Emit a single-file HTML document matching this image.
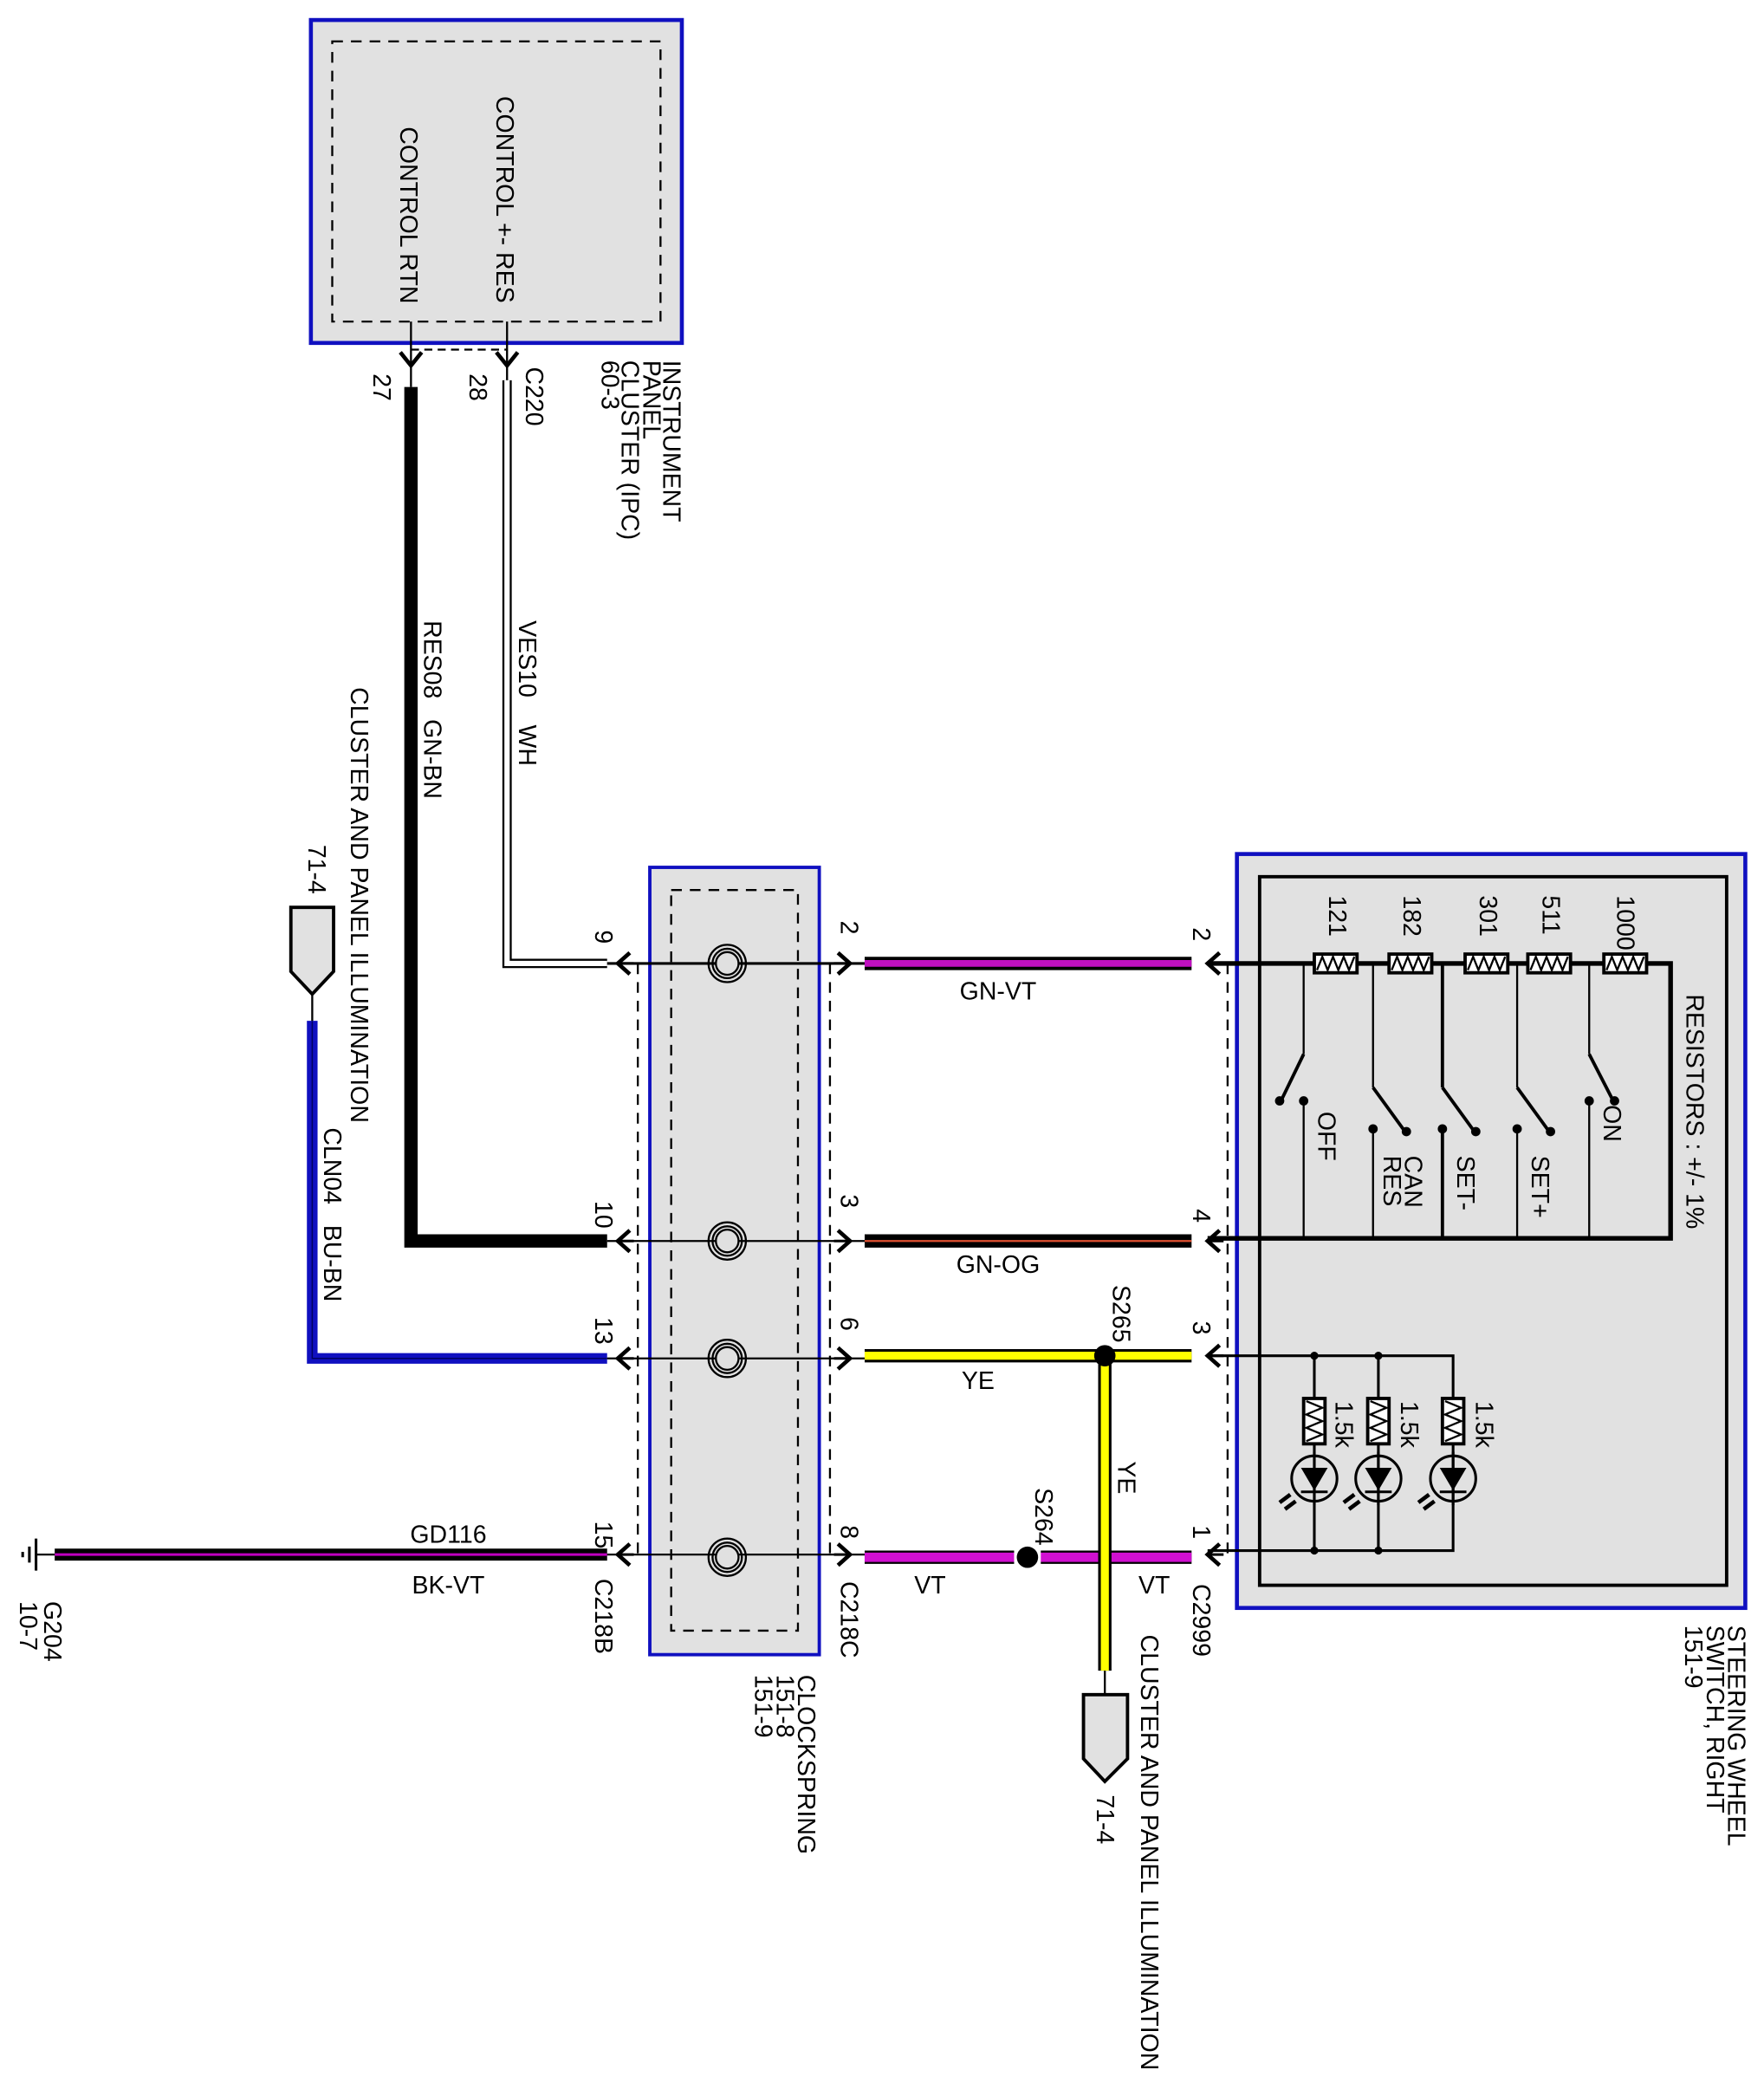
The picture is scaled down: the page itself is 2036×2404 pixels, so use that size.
<!DOCTYPE html>
<html><head><meta charset="utf-8"><style>
html,body{margin:0;padding:0;background:#fff;}
svg{display:block;}
text{font-family:"Liberation Sans",sans-serif;font-size:18.5px;fill:#000;white-space:pre;}
</style></head><body>
<svg width="2036" height="2404" viewBox="0 0 1322 1561" preserveAspectRatio="none" xmlns="http://www.w3.org/2000/svg" xml:space="preserve">
<defs>
<g id="arL"><path d="M9,-8 L0,0 L9,8" fill="none" stroke="#000" stroke-width="3"/><line x1="0" y1="0" x2="12" y2="0" stroke="#000" stroke-width="2"/></g>
<g id="arR"><path d="M-9,-8 L0,0 L-9,8" fill="none" stroke="#000" stroke-width="3"/><line x1="0" y1="0" x2="-12" y2="0" stroke="#000" stroke-width="2"/></g>
<g id="resH"><rect x="-16" y="-7" width="32" height="14" fill="#fff" stroke="#000" stroke-width="2.5"/><path d="M-14,5 L-10,-5 L-6,5 L-2,-5 L2,5 L6,-5 L10,5 L14,-5" fill="none" stroke="#000" stroke-width="1.5"/></g>
<g id="resV"><rect x="-8" y="-17" width="16" height="34" fill="#fff" stroke="#000" stroke-width="2.5"/><path d="M-6,-15 L6,-10 L-6,-5 L6,0 L-6,5 L6,10 L-6,15" fill="none" stroke="#000" stroke-width="1.5"/></g>
<g id="coil"><circle r="14" fill="none" stroke="#000" stroke-width="1.5"/><circle r="11" fill="none" stroke="#000" stroke-width="1.5"/><circle r="8.5" fill="#e0e0e0" stroke="#000" stroke-width="1.5"/></g>
<g id="led"><circle r="17" fill="none" stroke="#000" stroke-width="2"/><path d="M-10,-8 L10,-8 L0,9 Z" fill="#000"/><line x1="-10" y1="10" x2="10" y2="10" stroke="#000" stroke-width="2"/><line x1="0" y1="-20" x2="0" y2="20" stroke="#000" stroke-width="2"/><path d="M-18,12 L-26,18 M-14,17 L-22,23" stroke="#000" stroke-width="3"/></g>
</defs>

<rect x="233" y="15" width="278" height="242" fill="#e1e1e1" stroke="#1010c0" stroke-width="3"/>
<rect x="249" y="31" width="246" height="210" fill="none" stroke="#000" stroke-width="1.5" stroke-dasharray="8,6"/>
<text transform="translate(372,72) rotate(90)">CONTROL +- RES</text>
<text transform="translate(300,95) rotate(90)">CONTROL RTN</text>
<line x1="308" y1="241" x2="308" y2="290" stroke="#000" stroke-width="1.5"/>
<line x1="380" y1="241" x2="380" y2="285" stroke="#000" stroke-width="1.5"/>
<line x1="308" y1="262" x2="380" y2="262" stroke="#000" stroke-width="1.5" stroke-dasharray="6,4"/>
<path d="M300,264 L308,274 L316,264" fill="none" stroke="#000" stroke-width="3"/>
<path d="M372,264 L380,274 L388,264" fill="none" stroke="#000" stroke-width="3"/>
<text transform="translate(280,280) rotate(90)">27</text>
<text transform="translate(352,280) rotate(90)">28</text>
<text transform="translate(394,275) rotate(90)">C220</text>
<text transform="translate(497,270) rotate(90)">INSTRUMENT</text>
<text transform="translate(482,270) rotate(90)">PANEL</text>
<text transform="translate(466,270) rotate(90)">CLUSTER (IPC)</text>
<text transform="translate(451,270) rotate(90)">60-3</text>

<path d="M308,290 L308,930 L455,930" fill="none" stroke="#000" stroke-width="10"/>
<text transform="translate(318,465) rotate(90)">RES08   GN-BN</text>
<path d="M380,285 L380,722 L455,722" fill="none" stroke="#000" stroke-width="7"/>
<path d="M380,285 L380,722 L455,722" fill="none" stroke="#fff" stroke-width="4"/>
<text transform="translate(389,465) rotate(90)">VES10    WH</text>

<text transform="translate(263,515) rotate(90)">CLUSTER AND PANEL ILLUMINATION</text>
<text transform="translate(231,633) rotate(90)">71-4</text>
<path d="M218,680 L250,680 L250,728 L234,745 L218,728 Z" fill="#e1e1e1" stroke="#000" stroke-width="2.5"/>
<line x1="234" y1="745" x2="234" y2="765" stroke="#000" stroke-width="1.5"/>
<path d="M234,765 L234,1018 L455,1018" fill="none" stroke="#1010c0" stroke-width="8"/>
<path d="M234,765 L234,1018 L455,1018" fill="none" stroke="#000060" stroke-width="1"/>
<text transform="translate(243,845) rotate(90)">CLN04   BU-BN</text>

<line x1="41" y1="1165" x2="455" y2="1165" stroke="#000" stroke-width="9"/>
<line x1="41" y1="1165" x2="455" y2="1165" stroke="#c000c0" stroke-width="2"/>
<line x1="27" y1="1165" x2="41" y2="1165" stroke="#000" stroke-width="1.5"/>
<line x1="27" y1="1153" x2="27" y2="1177" stroke="#000" stroke-width="2"/>
<line x1="22" y1="1159" x2="22" y2="1171" stroke="#000" stroke-width="2"/>
<line x1="17" y1="1163" x2="17" y2="1167" stroke="#000" stroke-width="2"/>
<text x="336" y="1156" text-anchor="middle">GD116</text>
<text x="336" y="1194" text-anchor="middle">BK-VT</text>
<text transform="translate(33,1200) rotate(90)">G204</text>
<text transform="translate(15,1200) rotate(90)">10-7</text>

<rect x="487" y="650" width="127" height="590" fill="#e1e1e1" stroke="#1010c0" stroke-width="2.5"/>
<rect x="503" y="667" width="95" height="555" fill="none" stroke="#000" stroke-width="1.5" stroke-dasharray="8,6"/>
<line x1="478" y1="722" x2="478" y2="1170" stroke="#000" stroke-width="1.5" stroke-dasharray="8,6"/>
<line x1="622" y1="722" x2="622" y2="1170" stroke="#000" stroke-width="1.5" stroke-dasharray="8,6"/>
<g stroke="#000" stroke-width="2">
<line x1="455" y1="722" x2="648" y2="722"/>
<line x1="455" y1="930" x2="648" y2="930" stroke-width="1.5"/>
<line x1="455" y1="1018" x2="648" y2="1018" stroke-width="1.5"/>
<line x1="455" y1="1165" x2="648" y2="1165" stroke-width="1.5"/>
</g>
<use href="#coil" x="545" y="722"/><use href="#coil" x="545" y="930"/><use href="#coil" x="545" y="1018"/><use href="#coil" x="545" y="1167"/>
<use href="#arL" x="463" y="722"/><use href="#arL" x="463" y="930"/><use href="#arL" x="463" y="1018"/><use href="#arL" x="463" y="1165"/>
<use href="#arR" x="637" y="722"/><use href="#arR" x="637" y="930"/><use href="#arR" x="637" y="1018"/><use href="#arR" x="637" y="1165"/>
<text transform="translate(446,697) rotate(90)">9</text>
<text transform="translate(446,900) rotate(90)">10</text>
<text transform="translate(446,987) rotate(90)">13</text>
<text transform="translate(446,1140) rotate(90)">15</text>
<text transform="translate(446,1183) rotate(90)">C218B</text>
<text transform="translate(630,690) rotate(90)">2</text>
<text transform="translate(630,895) rotate(90)">3</text>
<text transform="translate(630,987) rotate(90)">6</text>
<text transform="translate(630,1143) rotate(90)">8</text>
<text transform="translate(630,1185) rotate(90)">C218C</text>
<text transform="translate(598,1255) rotate(90)">CLOCKSPRING</text>
<text transform="translate(582,1255) rotate(90)">151-8</text>
<text transform="translate(566,1255) rotate(90)">151-9</text>

<line x1="648" y1="722" x2="893" y2="722" stroke="#000" stroke-width="10"/>
<line x1="648" y1="722" x2="893" y2="722" stroke="#c010c0" stroke-width="5"/>
<text x="748" y="749" text-anchor="middle">GN-VT</text>
<line x1="648" y1="930" x2="893" y2="930" stroke="#000" stroke-width="10"/>
<line x1="648" y1="930" x2="893" y2="930" stroke="#e05030" stroke-width="1.5"/>
<text x="748" y="954" text-anchor="middle">GN-OG</text>
<line x1="648" y1="1016" x2="893" y2="1016" stroke="#000" stroke-width="10"/>
<line x1="648" y1="1016" x2="893" y2="1016" stroke="#ffff00" stroke-width="6"/>
<text x="733" y="1041" text-anchor="middle">YE</text>
<line x1="648" y1="1167" x2="893" y2="1167" stroke="#000" stroke-width="10"/>
<line x1="648" y1="1167" x2="893" y2="1167" stroke="#d010d0" stroke-width="7"/>
<line x1="828" y1="1016" x2="828" y2="1252" stroke="#000" stroke-width="10"/>
<line x1="828" y1="1016" x2="828" y2="1252" stroke="#ffff00" stroke-width="6"/>
<line x1="760" y1="1167" x2="780" y2="1167" stroke="#fff" stroke-width="12"/>
<circle cx="770" cy="1167" r="8" fill="#000"/>
<circle cx="828" cy="1016" r="8" fill="#000"/>
<text transform="translate(834,963) rotate(90)">S265</text>
<text transform="translate(776,1115) rotate(90)">S264</text>
<text transform="translate(838,1095) rotate(90)">YE</text>
<text x="697" y="1194" text-anchor="middle">VT</text>
<text x="865" y="1194" text-anchor="middle">VT</text>
<line x1="828" y1="1252" x2="828" y2="1270" stroke="#000" stroke-width="1.5"/>
<path d="M812,1270 L845,1270 L845,1318 L828,1335 L812,1318 Z" fill="#e1e1e1" stroke="#000" stroke-width="2.5"/>
<text transform="translate(822,1345) rotate(90)">71-4</text>
<text transform="translate(855,1225) rotate(90)">CLUSTER AND PANEL ILLUMINATION</text>

<rect x="927" y="640" width="381" height="565" fill="#e1e1e1" stroke="#1010c0" stroke-width="3"/>
<rect x="944" y="657" width="350" height="531" fill="none" stroke="#000" stroke-width="2.5"/>
<line x1="920" y1="722" x2="920" y2="1170" stroke="#000" stroke-width="1.5" stroke-dasharray="8,6"/>
<use href="#arL" x="905" y="722"/><use href="#arL" x="905" y="930"/><use href="#arL" x="905" y="1016"/><use href="#arL" x="905" y="1165"/>
<text transform="translate(894,695) rotate(90)">2</text>
<text transform="translate(894,906) rotate(90)">4</text>
<text transform="translate(894,990) rotate(90)">3</text>
<text transform="translate(894,1143) rotate(90)">1</text>
<text transform="translate(894,1187) rotate(90)">C2999</text>

<g stroke="#000" fill="none">
<path d="M905,722 L1252,722 L1252,928 L905,928" stroke-width="3.5"/>
<line x1="977" y1="722" x2="977" y2="790" stroke-width="1.5"/>
<line x1="977" y1="790" x2="960" y2="825" stroke-width="2.5"/>
<line x1="977" y1="825" x2="977" y2="928" stroke-width="1.5"/>
<line x1="1029" y1="722" x2="1029" y2="815" stroke-width="1.5"/>
<line x1="1029" y1="815" x2="1053" y2="848" stroke-width="2.5"/>
<line x1="1029" y1="846" x2="1029" y2="928" stroke-width="1.5"/>
<line x1="1081" y1="722" x2="1081" y2="815" stroke-width="2.5"/>
<line x1="1081" y1="815" x2="1105" y2="848" stroke-width="2.5"/>
<line x1="1081" y1="846" x2="1081" y2="928" stroke-width="2.5"/>
<line x1="1137" y1="722" x2="1137" y2="815" stroke-width="1.5"/>
<line x1="1137" y1="815" x2="1161" y2="848" stroke-width="2.5"/>
<line x1="1137" y1="846" x2="1137" y2="928" stroke-width="1.5"/>
<line x1="1191" y1="722" x2="1191" y2="790" stroke-width="1.5"/>
<line x1="1191" y1="790" x2="1209" y2="825" stroke-width="2.5"/>
<line x1="1191" y1="825" x2="1191" y2="928" stroke-width="1.5"/>
</g>
<g fill="#000">
<circle cx="959" cy="825" r="3.5"/><circle cx="977" cy="825" r="3.5"/>
<circle cx="1029" cy="846" r="3.5"/><circle cx="1054" cy="848" r="3.5"/>
<circle cx="1081" cy="846" r="3.5"/><circle cx="1106" cy="848" r="3.5"/>
<circle cx="1137" cy="846" r="3.5"/><circle cx="1162" cy="848" r="3.5"/>
<circle cx="1191" cy="825" r="3.5"/><circle cx="1210" cy="825" r="3.5"/>
</g>
<use href="#resH" x="1001" y="722"/><use href="#resH" x="1057" y="722"/><use href="#resH" x="1114" y="722"/><use href="#resH" x="1161" y="722"/><use href="#resH" x="1218" y="722"/>
<text transform="translate(996,671) rotate(90)">121</text>
<text transform="translate(1052,671) rotate(90)">182</text>
<text transform="translate(1109,671) rotate(90)">301</text>
<text transform="translate(1156,671) rotate(90)">511</text>
<text transform="translate(1212,671) rotate(90)">1000</text>
<text transform="translate(988,833) rotate(90)">OFF</text>
<text transform="translate(1053,866) rotate(90)">CAN</text>
<text transform="translate(1037,866) rotate(90)">RES</text>
<text transform="translate(1092,866) rotate(90)">SET-</text>
<text transform="translate(1148,866) rotate(90)">SET+</text>
<text transform="translate(1202,828) rotate(90)">ON</text>
<text transform="translate(1264,745) rotate(90)">RESISTORS : +/- 1%</text>

<g stroke="#000" fill="none" stroke-width="2">
<path d="M905,1016 L1089,1016 L1089,1162 L905,1162"/>
<line x1="985" y1="1016" x2="985" y2="1162"/>
<line x1="1033" y1="1016" x2="1033" y2="1162"/>
</g>
<circle cx="985" cy="1016" r="3" fill="#000"/><circle cx="1033" cy="1016" r="3" fill="#000"/>
<circle cx="985" cy="1162" r="3" fill="#000"/><circle cx="1033" cy="1162" r="3" fill="#000"/>
<use href="#resV" x="985" y="1065"/><use href="#resV" x="1033" y="1065"/><use href="#resV" x="1089" y="1065"/>
<use href="#led" x="985" y="1108"/><use href="#led" x="1033" y="1108"/><use href="#led" x="1089" y="1108"/>
<text transform="translate(1001,1050) rotate(90)">1.5k</text>
<text transform="translate(1050,1050) rotate(90)">1.5k</text>
<text transform="translate(1106,1050) rotate(90)">1.5k</text>
<text transform="translate(1295,1218) rotate(90)">STEERING WHEEL</text>
<text transform="translate(1279,1218) rotate(90)">SWITCH, RIGHT</text>
<text transform="translate(1263,1218) rotate(90)">151-9</text>
</svg>
</body></html>
